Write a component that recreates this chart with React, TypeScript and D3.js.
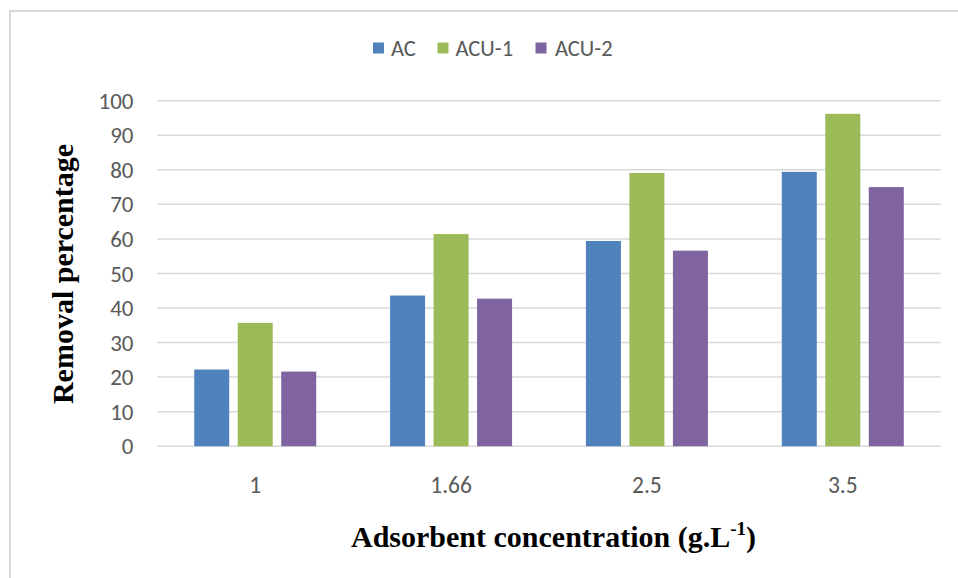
import React from "react";
import * as d3 from "d3";

const categories = ["1", "1.66", "2.5", "3.5"];
const seriesNames = ["AC", "ACU-1", "ACU-2"];
const acValues = [22.2, 43.6, 59.4, 79.4];
const acu1Values = [35.7, 61.4, 79.1, 96.2];
const acu2Values = [21.6, 42.7, 56.6, 75.0];
const yTicks = [0, 10, 20, 30, 40, 50, 60, 70, 80, 90, 100];
const colors = ["#4F81BD", "#9BBB59", "#8064A2"];

const W = 958;
const H = 578;
const left = 157.3;
const right = 940.7;
const top = 100.7;
const bottom = 446.2;

export default function App() {
  const series = [acValues, acu1Values, acu2Values];
  const x = d3.scaleBand<string>().domain(categories).range([left, right]).paddingInner(0).paddingOuter(0);
  const y = d3.scaleLinear().domain([0, 100]).range([bottom, top]);
  const barW = 35;
  const step = 43.5;
  const tickFont = "Carlito, Lato, 'Open Sans', sans-serif";
  const legendItems = [
    { name: seriesNames[0], sq: 373, tx: 391 },
    { name: seriesNames[1], sq: 437.5, tx: 455.5 },
    { name: seriesNames[2], sq: 535.5, tx: 555 },
  ];
  return (
    <svg width={W} height={H} style={{ position: "absolute", left: 0, top: 0, background: "#fff" }}>
      <rect x={10} y={11} width={1000} height={700} fill="#fff" stroke="#D9D9D9" strokeWidth={2} />
      {yTicks.map((t) => (
        <g key={t}>
          <line x1={left} x2={right} y1={y(t)} y2={y(t)} stroke="#D9D9D9" strokeWidth={1.5} />
          <text x={133.5} y={y(t)} dy="0.35em" textAnchor="end" fontSize={23} fill="#595959" fontFamily={tickFont}>
            {t}
          </text>
        </g>
      ))}
      {categories.map((c, i) => {
        const cx = (x(c) as number) + x.bandwidth() / 2;
        return (
          <g key={c}>
            {series.map((vals, s) => (
              <rect
                key={s}
                x={cx + (s - 1) * step - barW / 2}
                y={y(vals[i])}
                width={barW}
                height={bottom - y(vals[i])}
                fill={colors[s]}
              />
            ))}
            <text x={cx} y={493} textAnchor="middle" fontSize={23.5} fill="#595959" fontFamily={tickFont}>
              {c}
            </text>
          </g>
        );
      })}
      {legendItems.map((it, s) => (
        <g key={it.name}>
          <rect x={it.sq} y={42.5} width={11} height={11} fill={colors[s]} />
          <text x={it.tx} y={56} fontSize={22.5} fill="#595959" fontFamily={tickFont}>
            {it.name}
          </text>
        </g>
      ))}
      <text
        transform={`translate(73, 274) rotate(-90)`}
        textAnchor="middle"
        fontSize={30}
        fontWeight="bold"
        fontFamily="'Liberation Serif', 'Times New Roman', serif"
        fill="#000"
      >
        Removal percentage
      </text>
      <text
        x={351}
        y={547}
        textAnchor="start"
        fontSize={30}
        fontWeight="bold"
        fontFamily="'Liberation Serif', 'Times New Roman', serif"
        fill="#000"
      >
        Adsorbent concentration (g.L
        <tspan fontSize={19} dy={-12}>-1</tspan>
        <tspan dy={12}>)</tspan>
      </text>
    </svg>
  );
}
